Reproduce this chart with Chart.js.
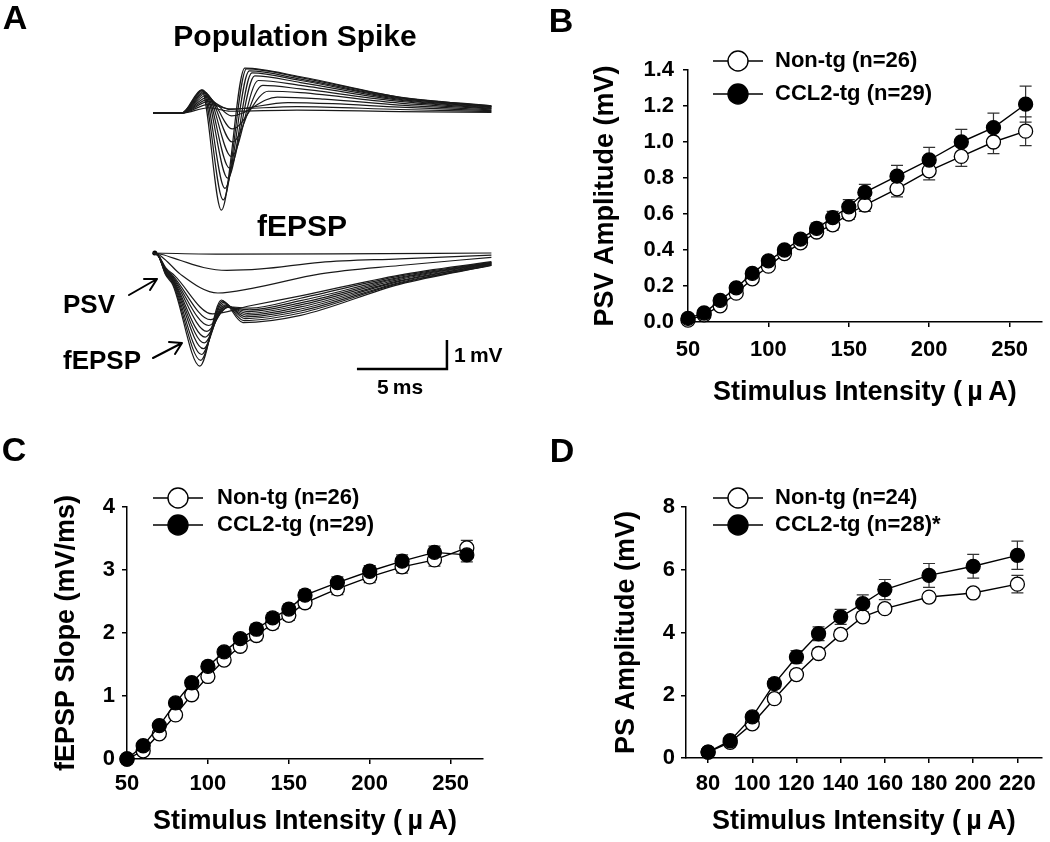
<!DOCTYPE html>
<html>
<head>
<meta charset="utf-8">
<title>CCL2-tg input/output curves</title>
<script src="https://cdn.jsdelivr.net/npm/chart.js@4.4.1/dist/chart.umd.min.js"></script>
<style>
  body { margin: 0; background: #fff; }
  #fig { position: relative; width: 1050px; height: 842px; overflow: hidden;
         font-family: "Liberation Sans", Arial, sans-serif; font-weight: bold; color: #000; }
  #fig canvas { position: absolute; }
  #fig svg { position: absolute; left: 0; top: 0; }
  .txt { position: absolute; white-space: nowrap; line-height: 1; transform: translate(-50%, -50%); }
  .txt.start { transform: translate(0, -50%); }
</style>
</head>
<body>
<div id="fig">
  <canvas id="chartA"></canvas>
  <canvas id="chartB"></canvas>
  <canvas id="chartC"></canvas>
  <canvas id="chartD"></canvas>

  <!-- arrows pointing at the fiber volley and the fEPSP -->
  <svg width="1050" height="842">
    <g stroke="#000" stroke-width="2" fill="none" stroke-linecap="round" stroke-linejoin="round">
      <path d="M129 295 L157 279 M144 279 L157 279 L150 290"/>
      <path d="M153 358 L182 343 M169 342 L182 343 L175 354"/>
    </g>
  </svg>

  <div class="txt" style="left:15px;top:17px;font-size:34px">A</div>
  <div class="txt" style="left:561px;top:20px;font-size:34px">B</div>
  <div class="txt" style="left:14px;top:449px;font-size:34px">C</div>
  <div class="txt" style="left:562px;top:450px;font-size:34px">D</div>

  <div class="txt" style="left:295px;top:36px;font-size:30px">Population Spike</div>
  <div class="txt" style="left:302px;top:226px;font-size:30px">fEPSP</div>
  <div class="txt" style="left:89px;top:304px;font-size:26px">PSV</div>
  <div class="txt" style="left:102px;top:360px;font-size:26px">fEPSP</div>
  <div class="txt start" style="left:454px;top:354px;font-size:21px">1&#8201;mV</div>
  <div class="txt" style="left:400px;top:386px;font-size:21px">5&#8201;ms</div>
</div>

<script>
// ── Panel A: example traces, [time (ms), voltage (mV)] ──

const psTraces = [
  [[0,0],[1.6,0],[2.7,0.8],[3.8,-3.35],[5.1,1.55],[8.2,1.25],[13.7,0.55],[18.8,0.25]],
  [[0,0],[1.6,0],[2.75,0.8],[3.9,-3.0],[5.2,1.52],[8.2,1.22],[13.7,0.54],[18.8,0.24]],
  [[0,0],[1.6,0],[2.8,0.78],[4.0,-2.6],[5.35,1.45],[8.2,1.17],[13.7,0.52],[18.8,0.23]],
  [[0,0],[1.6,0],[2.85,0.75],[4.15,-2.25],[5.5,1.38],[8.2,1.12],[13.7,0.5],[18.8,0.22]],
  [[0,0],[1.6,0],[2.9,0.72],[4.25,-1.9],[5.65,1.28],[8.2,1.05],[13.7,0.47],[18.8,0.2]],
  [[0,0],[1.6,0],[2.95,0.68],[4.35,-1.5],[5.85,1.12],[8.2,0.95],[13.7,0.44],[18.8,0.18]],
  [[0,0],[1.6,0],[3.0,0.62],[4.4,-1.0],[6.1,0.95],[8.2,0.83],[13.7,0.4],[18.8,0.16]],
  [[0,0],[1.6,0],[3.05,0.55],[4.4,-0.55],[6.4,0.75],[8.2,0.7],[13.7,0.34],[18.8,0.14]],
  [[0,0],[1.6,0],[3.1,0.48],[4.35,-0.1],[6.9,0.55],[9.5,0.48],[13.7,0.27],[18.8,0.11]],
  [[0,0],[1.6,0],[3.1,0.4],[4.3,0.12],[7.5,0.36],[10,0.32],[13.7,0.2],[18.8,0.08]],
  [[0,0],[1.6,0],[3.1,0.3],[4.3,0.14],[8,0.22],[13.7,0.12],[18.8,0.05]],
  [[0,0],[1.6,0],[3.1,0.18],[4.3,0.06],[8,0.1],[13.7,0.05],[18.8,0.02]],
];

const fepspTraces = [
  [[0,0],[0.3,-0.1],[0.7,-0.75],[1.1,-1.1],[2.6,-3.9],[3.8,-1.62],[5.0,-2.4],[8.2,-2.15],[13.7,-1.08],[18.8,-0.43]],
  [[0,0],[0.3,-0.1],[0.7,-0.72],[1.1,-1.05],[2.65,-3.7],[3.85,-1.66],[5.05,-2.33],[8.2,-2.07],[13.7,-1.05],[18.8,-0.42]],
  [[0,0],[0.3,-0.1],[0.7,-0.7],[1.1,-1.0],[2.7,-3.5],[3.9,-1.7],[5.1,-2.26],[8.2,-2.0],[13.7,-1.02],[18.8,-0.41]],
  [[0,0],[0.3,-0.1],[0.7,-0.68],[1.1,-0.97],[2.8,-3.3],[3.95,-1.75],[5.15,-2.2],[8.2,-1.93],[13.7,-0.98],[18.8,-0.39]],
  [[0,0],[0.3,-0.1],[0.7,-0.65],[1.1,-0.93],[2.85,-3.1],[4.0,-1.8],[5.2,-2.14],[8.2,-1.86],[13.7,-0.95],[18.8,-0.38]],
  [[0,0],[0.3,-0.1],[0.7,-0.62],[1.1,-0.9],[2.9,-2.9],[4.05,-1.83],[5.25,-2.08],[8.2,-1.79],[13.7,-0.91],[18.8,-0.36]],
  [[0,0],[0.3,-0.1],[0.7,-0.6],[1.1,-0.86],[3.0,-2.7],[4.1,-1.86],[5.3,-2.02],[8.2,-1.72],[13.7,-0.87],[18.8,-0.35]],
  [[0,0],[0.3,-0.1],[0.7,-0.57],[1.1,-0.82],[3.1,-2.5],[4.15,-1.88],[5.35,-1.96],[8.2,-1.64],[13.7,-0.84],[18.8,-0.33]],
  [[0,0],[0.3,-0.1],[0.7,-0.54],[1.1,-0.78],[3.2,-2.3],[4.2,-1.86],[5.4,-1.9],[8.2,-1.56],[13.7,-0.8],[18.8,-0.32]],
  [[0,0],[0.3,-0.08],[0.7,-0.5],[1.2,-0.78],[3.3,-2.1],[5.4,-1.82],[8.2,-1.48],[13.7,-0.76],[18.8,-0.3]],
  [[0,0],[0.3,-0.05],[0.8,-0.3],[1.5,-0.72],[3.6,-1.38],[5.5,-1.22],[9.3,-0.72],[13.7,-0.43],[18.8,-0.15]],
  [[0,0],[0.5,-0.05],[1.5,-0.25],[2.8,-0.5],[4.1,-0.6],[6,-0.55],[9.3,-0.32],[13.7,-0.2],[18.8,-0.07]],
  [[0,0],[4,-0.04],[10,-0.03],[18.8,0]],
];

// fEPSP traces sit below the population spikes (mV)
const fepspOffset = -4.83;
// 5 ms / 1 mV scale bar
const scaleBarT = [11.33, 16.33, 16.33];
const scaleBarV = [-8.83, -8.83, -7.83];

// ── Panels B–D: input/output curves ──

const intensityBC = [50, 60, 70, 80, 90, 100, 110, 120, 130, 140, 150, 160, 180, 200, 220, 240, 260];
const intensityD  = [80, 90, 100, 110, 120, 130, 140, 150, 160, 180, 200, 220];

const psvNonTg     = [0.01, 0.04, 0.09, 0.16, 0.24, 0.31, 0.38, 0.44, 0.50, 0.54, 0.60, 0.65, 0.74, 0.84, 0.92, 1.00, 1.06];
const psvNonTgErr  = [0.01, 0.01, 0.015, 0.02, 0.02, 0.02, 0.02, 0.025, 0.025, 0.03, 0.03, 0.035, 0.045, 0.05, 0.055, 0.065, 0.08];
const psvCcl2      = [0.02, 0.05, 0.12, 0.19, 0.27, 0.34, 0.40, 0.46, 0.52, 0.58, 0.64, 0.72, 0.81, 0.90, 1.00, 1.08, 1.21];
const psvCcl2Err   = [0.01, 0.01, 0.015, 0.02, 0.02, 0.02, 0.02, 0.025, 0.03, 0.035, 0.04, 0.045, 0.06, 0.07, 0.07, 0.08, 0.10];

const slopeNonTg    = [0, 0.13, 0.40, 0.70, 1.02, 1.31, 1.57, 1.79, 1.96, 2.15, 2.28, 2.48, 2.70, 2.89, 3.05, 3.16, 3.35];
const slopeNonTgErr = [0.02, 0.04, 0.05, 0.06, 0.06, 0.07, 0.07, 0.07, 0.08, 0.08, 0.08, 0.08, 0.09, 0.09, 0.1, 0.1, 0.12];
const slopeCcl2     = [0, 0.21, 0.53, 0.89, 1.21, 1.47, 1.70, 1.91, 2.06, 2.24, 2.38, 2.60, 2.80, 2.98, 3.14, 3.28, 3.24];
const slopeCcl2Err  = [0.02, 0.04, 0.05, 0.06, 0.06, 0.07, 0.07, 0.07, 0.08, 0.08, 0.08, 0.08, 0.09, 0.09, 0.1, 0.1, 0.11];

const psNonTg     = [0.19, 0.50, 1.09, 1.89, 2.66, 3.33, 3.94, 4.50, 4.76, 5.13, 5.26, 5.54];
const psNonTgErr  = [0.04, 0.06, 0.08, 0.12, 0.14, 0.15, 0.15, 0.15, 0.14, 0.14, 0.14, 0.28];
const psCcl2      = [0.19, 0.55, 1.31, 2.37, 3.22, 3.96, 4.50, 4.92, 5.37, 5.82, 6.11, 6.46];
const psCcl2Err   = [0.05, 0.08, 0.12, 0.16, 0.20, 0.22, 0.24, 0.28, 0.32, 0.38, 0.38, 0.45];

const xTicksBC = [50, 100, 150, 200, 250];
const xTicksD  = [80, 100, 120, 140, 160, 180, 200, 220];
const yTicksB  = [0, 0.2, 0.4, 0.6, 0.8, 1.0, 1.2, 1.4];
const yTicksC  = [0, 1, 2, 3, 4];
const yTicksD  = [0, 2, 4, 6, 8];

const legendB = ["Non-tg (n=26)", "CCL2-tg (n=29)"];
const legendC = ["Non-tg (n=26)", "CCL2-tg (n=29)"];
const legendD = ["Non-tg (n=24)", "CCL2-tg (n=28)*"];

const xTitle = "Stimulus Intensity (\u2009\u00B5\u2009A)";

// ── Shared styling ──

const FONT = '"Liberation Sans", Arial, sans-serif';
const TICK_SIZE = 22;
const TITLE_SIZE = 27;
Chart.defaults.color = "#000";
Chart.defaults.font.family = FONT;

const toPoints = (xs, ys) => xs.map((x, i) => ({ x, y: ys[i] }));

// vertical SEM bars with caps, drawn under the markers
const errorBars = {
  id: "errorBars",
  beforeDatasetsDraw(chart) {
    const { ctx, scales: { x, y } } = chart;
    chart.data.datasets.forEach((ds) => {
      if (!ds.err) return;
      ctx.save();
      ctx.strokeStyle = "#333";
      ctx.lineWidth = 1.2;
      ds.data.forEach((p, i) => {
        const px = x.getPixelForValue(p.x);
        const top = y.getPixelForValue(p.y + ds.err[i]);
        const bot = y.getPixelForValue(p.y - ds.err[i]);
        ctx.beginPath();
        ctx.moveTo(px, top); ctx.lineTo(px, bot);
        ctx.moveTo(px - 6, top); ctx.lineTo(px + 6, top);
        ctx.moveTo(px - 6, bot); ctx.lineTo(px + 6, bot);
        ctx.stroke();
      });
      ctx.restore();
    });
  },
};

// legend drawn inside the plot: line through a marker, then the label
const inlineLegend = {
  id: "inlineLegend",
  afterDraw(chart, args, opts) {
    if (!opts || !opts.labels) return;
    const ctx = chart.ctx;
    ctx.save();
    ctx.font = `bold ${TICK_SIZE}px ${FONT}`;
    ctx.textBaseline = "middle";
    opts.labels.forEach((text, i) => {
      const y = opts.rows[i];
      ctx.strokeStyle = "#000";
      ctx.lineWidth = 1.4;
      ctx.beginPath();
      ctx.moveTo(opts.lineFrom, y);
      ctx.lineTo(opts.lineTo, y);
      ctx.stroke();
      ctx.beginPath();
      ctx.arc(opts.marker, y, 10, 0, Math.PI * 2);
      ctx.fillStyle = opts.fills[i];
      ctx.fill();
      ctx.stroke();
      ctx.fillStyle = "#000";
      ctx.fillText(text, opts.textX, y);
    });
    ctx.restore();
  },
};

function seriesStyle(filled) {
  return {
    showLine: true,
    clip: false,
    borderColor: "#000",
    borderWidth: 1.4,
    pointRadius: 7,
    pointBorderWidth: 1.3,
    pointBorderColor: "#000",
    pointBackgroundColor: filled ? "#000" : "#fff",
    order: filled ? 0 : 1,
  };
}

// box: canvas position/size in the page; area: wanted plot area in page pixels
function ioPanel(id, box, area, cfg) {
  const cv = document.getElementById(id);
  cv.width = box.w;
  cv.height = box.h;
  cv.style.left = box.x + "px";
  cv.style.top = box.y + "px";

  const yWidth = area.l - box.x;
  const xHeight = box.y + box.h - area.b;
  const halfLine = (TITLE_SIZE * 1.2) / 2;
  const tickFont = { size: TICK_SIZE, weight: "bold", family: FONT };
  const titleFont = { size: TITLE_SIZE, weight: "bold", family: FONT };
  const axisGrid = { drawOnChartArea: false, drawTicks: true, tickLength: 5, color: "#000", lineWidth: 1.5 };
  const axisBorder = { display: true, color: "#000", width: 1.5 };

  const legendRows = cfg.legendRows.map((v) => v - box.y);

  return new Chart(cv, {
    type: "scatter",
    data: {
      datasets: [
        { label: "Non-tg", data: toPoints(cfg.xs, cfg.nonTg), err: cfg.nonTgErr, ...seriesStyle(false) },
        { label: "CCL2-tg", data: toPoints(cfg.xs, cfg.ccl2), err: cfg.ccl2Err, ...seriesStyle(true) },
      ],
    },
    options: {
      responsive: false,
      animation: false,
      events: [],
      layout: { padding: { left: 0, bottom: 0, top: area.t - box.y, right: box.x + box.w - area.r } },
      plugins: {
        legend: { display: false },
        tooltip: { enabled: false },
        inlineLegend: {
          labels: cfg.legend,
          fills: ["#fff", "#000"],
          rows: legendRows,
          lineFrom: cfg.legendX[0] - box.x,
          lineTo: cfg.legendX[1] - box.x,
          marker: cfg.legendX[2] - box.x,
          textX: cfg.legendX[3] - box.x,
        },
      },
      scales: {
        x: {
          type: "linear",
          min: cfg.xMin,
          max: cfg.xMax,
          afterBuildTicks: (s) => { s.ticks = cfg.xTicks.map((value) => ({ value })); },
          afterFit: (s) => { s.height = xHeight; },
          grid: axisGrid,
          border: axisBorder,
          ticks: { font: tickFont, color: "#000", padding: cfg.xPad, maxRotation: 0, autoSkip: false },
          title: {
            display: true, text: xTitle, font: titleFont, color: "#000",
            padding: { top: 0, bottom: box.y + box.h - cfg.xTitleY - halfLine },
          },
        },
        y: {
          type: "linear",
          min: cfg.yMin,
          max: cfg.yMax,
          afterBuildTicks: (s) => { s.ticks = cfg.yTicks.map((value) => ({ value })); },
          afterFit: (s) => { s.width = yWidth; },
          grid: axisGrid,
          border: axisBorder,
          ticks: { font: tickFont, color: "#000", padding: cfg.yPad, autoSkip: false, callback: cfg.yFormat },
          title: {
            display: true, text: cfg.yTitle, font: titleFont, color: "#000",
            padding: { top: cfg.yTitleX - box.x - halfLine, bottom: 0 },
          },
        },
      },
    },
    plugins: [errorBars, inlineLegend],
  });
}

// ── Panel A ──

function renderTraces() {
  const cv = document.getElementById("chartA");
  cv.width = 520;
  cv.height = 420;
  cv.style.left = "0px";
  cv.style.top = "0px";

  const traceStyle = {
    showLine: true, clip: false, pointRadius: 0, borderColor: "#1a1a1a",
    borderWidth: 1.2, cubicInterpolationMode: "monotone",
  };
  const datasets = [
    ...psTraces.map((tr) => ({ data: tr.map(([x, y]) => ({ x, y })), ...traceStyle })),
    ...fepspTraces.map((tr) => ({ data: tr.map(([x, y]) => ({ x, y: y + fepspOffset })), ...traceStyle })),
    { data: [{ x: 0.1, y: fepspOffset }], showLine: false, clip: false, pointRadius: 2.5, pointBackgroundColor: "#000", pointBorderWidth: 0 },
    { data: toPoints(scaleBarT, scaleBarV), showLine: true, clip: false, pointRadius: 0, borderColor: "#000", borderWidth: 2.5 },
  ];

  new Chart(cv, {
    type: "scatter",
    data: { datasets },
    options: {
      responsive: false,
      animation: false,
      events: [],
      layout: { padding: { left: 153, top: 55, right: 7, bottom: 20 } },
      plugins: { legend: { display: false }, tooltip: { enabled: false } },
      scales: {
        x: { display: false, min: 0, max: 20 },
        y: { display: false, min: -9.9, max: 2.0 },
      },
    },
  });
}

renderTraces();

ioPanel("chartB", { x: 525, y: 30, w: 525, h: 390 }, { l: 688, t: 70, r: 1046, b: 322 }, {
  xs: intensityBC, nonTg: psvNonTg, nonTgErr: psvNonTgErr, ccl2: psvCcl2, ccl2Err: psvCcl2Err,
  xMin: 50, xMax: 270, xTicks: xTicksBC, yMin: 0, yMax: 1.4, yTicks: yTicksB,
  yFormat: (v) => v.toFixed(1), yTitle: "PSV Amplitude (mV)",
  xPad: 10, yPad: 9, xTitleY: 393, yTitleX: 606,
  legend: legendB, legendRows: [61, 94], legendX: [713, 763, 738, 775],
});

ioPanel("chartC", { x: 0, y: 430, w: 520, h: 412 }, { l: 127, t: 507, r: 483, b: 759 }, {
  xs: intensityBC, nonTg: slopeNonTg, nonTgErr: slopeNonTgErr, ccl2: slopeCcl2, ccl2Err: slopeCcl2Err,
  xMin: 50, xMax: 270, xTicks: xTicksBC, yMin: 0, yMax: 4, yTicks: yTicksC,
  yFormat: (v) => String(v), yTitle: "fEPSP Slope (mV/ms)",
  xPad: 7, yPad: 7, xTitleY: 822, yTitleX: 67,
  legend: legendC, legendRows: [498, 525], legendX: [153, 203, 178, 217],
});

ioPanel("chartD", { x: 525, y: 430, w: 525, h: 412 }, { l: 686, t: 507, r: 1045, b: 758 }, {
  xs: intensityD, nonTg: psNonTg, nonTgErr: psNonTgErr, ccl2: psCcl2, ccl2Err: psCcl2Err,
  xMin: 70, xMax: 231, xTicks: xTicksD, yMin: 0, yMax: 8, yTicks: yTicksD,
  yFormat: (v) => String(v), yTitle: "PS Amplitude (mV)",
  xPad: 8, yPad: 6, xTitleY: 822, yTitleX: 627,
  legend: legendD, legendRows: [498, 525], legendX: [713, 763, 738, 775],
});
</script>
</body>
</html>
